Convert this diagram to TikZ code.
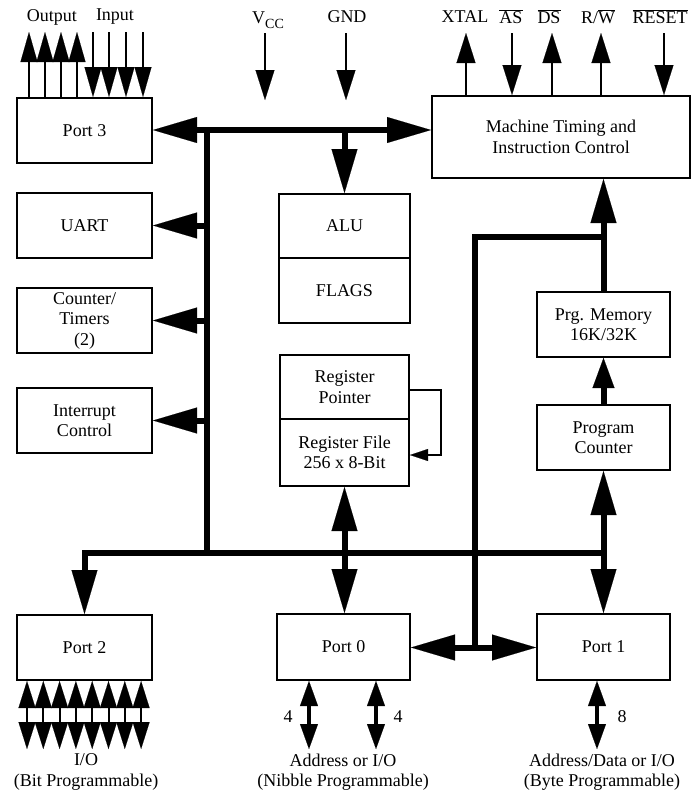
\documentclass[tikz,border=0pt]{standalone}
\usepackage{fontspec}
\setmainfont{Liberation Serif}
\usetikzlibrary{arrows.meta}
\begin{document}
\begin{tikzpicture}[x=1pt,y=-1pt,
  txt/.style={font=\fontsize{18}{20.5}\selectfont,align=center,inner sep=0pt},
  box/.style={txt,draw,line width=2pt},
  wbox/.style={box,minimum width=135pt,minimum height=65pt},
  bus/.style={line width=6pt},
  bighead/.tip={Triangle[length=44pt,width=26pt,line width=0.1pt]},
  midhead/.tip={Triangle[length=30pt,width=22pt,line width=0.1pt]},
  thinhead/.tip={Triangle[length=30pt,width=19pt,line width=0.1pt]},
  smallhead/.tip={Triangle[length=30pt,width=17pt,line width=0.1pt]},
  p2head/.tip={Triangle[length=27pt,width=17pt,line width=0.1pt]},
  p0head/.tip={Triangle[length=25pt,width=18pt,line width=0.1pt]},
  fbhead/.tip={Triangle[length=18pt,width=12pt,line width=0.1pt]},
  thin/.style={line width=2pt},
]
\useasboundingbox (0,0) rectangle (694,801);

% ---------- boxes ----------
\node[wbox] (p3) at (84.5,130.5) {Port 3};
\node[wbox] (uart) at (84.5,225.5) {UART};
\node[wbox] (ct) at (84.5,320.5) {Counter/\\Timers\\(2)};
\node[wbox] (ic) at (84.5,420.5) {Interrupt\\Control};
\node[wbox] (p2) at (84.5,647.5) {Port 2};
\node[box,minimum width=258pt,minimum height=82pt] (mt) at (561,137) {Machine Timing and\\Instruction Control};
\node[box,minimum width=131pt,minimum height=64pt] (alu) at (344.5,226) {ALU};
\node[box,minimum width=131pt,minimum height=65pt] (flags) at (344.5,290.5) {FLAGS};
\node[box,minimum width=129pt,minimum height=64pt] (rp) at (344.5,387) {Register\\Pointer};
\node[box,minimum width=129pt,minimum height=67pt] (rf) at (344.5,452.5) {Register File\\256 x 8-Bit};
\node[box,minimum width=133pt,minimum height=66pt] (p0) at (343.5,647) {Port 0};
\node[box,minimum width=133pt,minimum height=66pt] (p1) at (603.5,647) {Port 1};
\node[box,minimum width=133pt,minimum height=65pt] (pm) at (603.5,324.5) {Prg. Memory\\16K/32K};
\node[box,minimum width=133pt,minimum height=65pt] (pc) at (603.5,437.5) {Program\\Counter};

% ---------- top labels ----------
\node[txt] (lout) at (52,17) {Output};
\node[txt] (lin) at (115,17) {Input};
\node[txt] (lvcc) at (268,20) {V\raisebox{-5pt}{\fontsize{14}{14}\selectfont CC}};
\node[txt] (lgnd) at (347,17) {GND};
\node[txt] (lxtal) at (465,17) {XTAL};
\node[txt] (las) at (511,17) {$\overline{\mbox{AS}}$};
\node[txt] (lds) at (549,17) {$\overline{\mbox{DS}}$};
\node[txt] (lrw) at (598,17) {R/$\overline{\mbox{W}}$};
\node[txt] (lreset) at (660,17) {$\overline{\mbox{RESET}}$};

% ---------- bottom labels ----------
\node[txt] (lio2) at (86,772) {I/O\\(Bit Programmable)};
\node[txt] (lio0) at (343,772) {Address or I/O\\(Nibble Programmable)};
\node[txt] (lio1) at (602,772) {Address/Data or I/O\\(Byte Programmable)};
\node[txt] (n4a) at (288,717) {4};
\node[txt] (n4b) at (398,717) {4};
\node[txt] (n8) at (622,717) {8};

% ---------- coordinates ----------
\coordinate (j1) at (207,130);
\coordinate (j2) at (207,553);
\coordinate (k1) at (475,237);
\coordinate (k2) at (475,647.5);
\coordinate (vcct) at (265,33);
\coordinate (vccb) at (265,100);
\coordinate (gndt) at (346,33);
\coordinate (gndb) at (346,100);
\coordinate (xt) at (466,33);
\coordinate (ast) at (512,33);
\coordinate (dst) at (552,33);
\coordinate (rwt) at (601,33);
\coordinate (rst) at (664,33);
\coordinate (fb) at (441,390);

% ---------- buses ----------
\draw[bus,bighead-bighead] (p3.east |- j1) -- (mt.west |- j1);
\draw[bus,-bighead] (alu.north |- j1) -- (alu.north);
\draw[bus,-bighead] (j1) -- (j2) -- (p2.north |- j2) -- (p2.north);
\draw[bus] (j2) -- (pc.south |- j2);
\draw[bus,-bighead] (j1 |- uart.east) -- (uart.east);
\draw[bus,-bighead] (j1 |- ct.east) -- (ct.east);
\draw[bus,-bighead] (j1 |- ic.east) -- (ic.east);
\draw[bus,bighead-bighead] (rf.south) -- (rf.south |- p0.north);
\draw[bus,-bighead] (pc.south |- j2) -- (pc.south);
\draw[bus,-bighead] (pc.south |- j2) -- (p1.north);
\draw[bus,-midhead] (pc.north) -- (pm.south);
\draw[bus] (k2) -- (k1) -- (pm.north |- k1);
\draw[bus,-bighead] (pm.north) -- (pm.north |- mt.south);
\draw[bus,bighead-bighead] (p0.east |- k2) -- (p1.west |- k2);

% ---------- thin top arrows ----------
\draw[thin,-thinhead] (vcct) -- (vccb);
\draw[thin,-thinhead] (gndt) -- (gndb);
\draw[thin,-thinhead] (xt |- mt.north) -- (xt);
\draw[thin,-thinhead] (ast) -- (ast |- mt.north);
\draw[thin,-thinhead] (dst |- mt.north) -- (dst);
\draw[thin,-thinhead] (rwt |- mt.north) -- (rwt);
\draw[thin,-thinhead] (rst) -- (rst |- mt.north);

% ---------- port 3 pins ----------
\foreach \d in {13,29,45,61}
  \draw[thin,-smallhead] (p3.north west) ++(\d,0) -- ++(0,-65);
\foreach \d in {77,93,110,127}
  \draw[thin,smallhead-] (p3.north west) ++(\d,0) -- ++(0,-65);

% ---------- port 2 pins ----------
\foreach \i in {0,...,7}
  \draw[thin,p2head-p2head] (p2.south west) ++({11+16.3*\i},0) -- ++(0,68);

% ---------- port 0 / port 1 pins ----------
\draw[line width=4pt,p0head-p0head] (p0.south west) ++(33,0) -- ++(0,68);
\draw[line width=4pt,p0head-p0head] (p0.south west) ++(100,0) -- ++(0,68);
\draw[line width=4pt,p0head-p0head] (p1.south west) ++(61,0) -- ++(0,68);

% ---------- register pointer feedback ----------
\draw[thin,-fbhead] (rp.east |- fb) -- (fb) -- (fb |- 0,455) -- (rf.east |- 0,455);
\end{tikzpicture}
\end{document}
